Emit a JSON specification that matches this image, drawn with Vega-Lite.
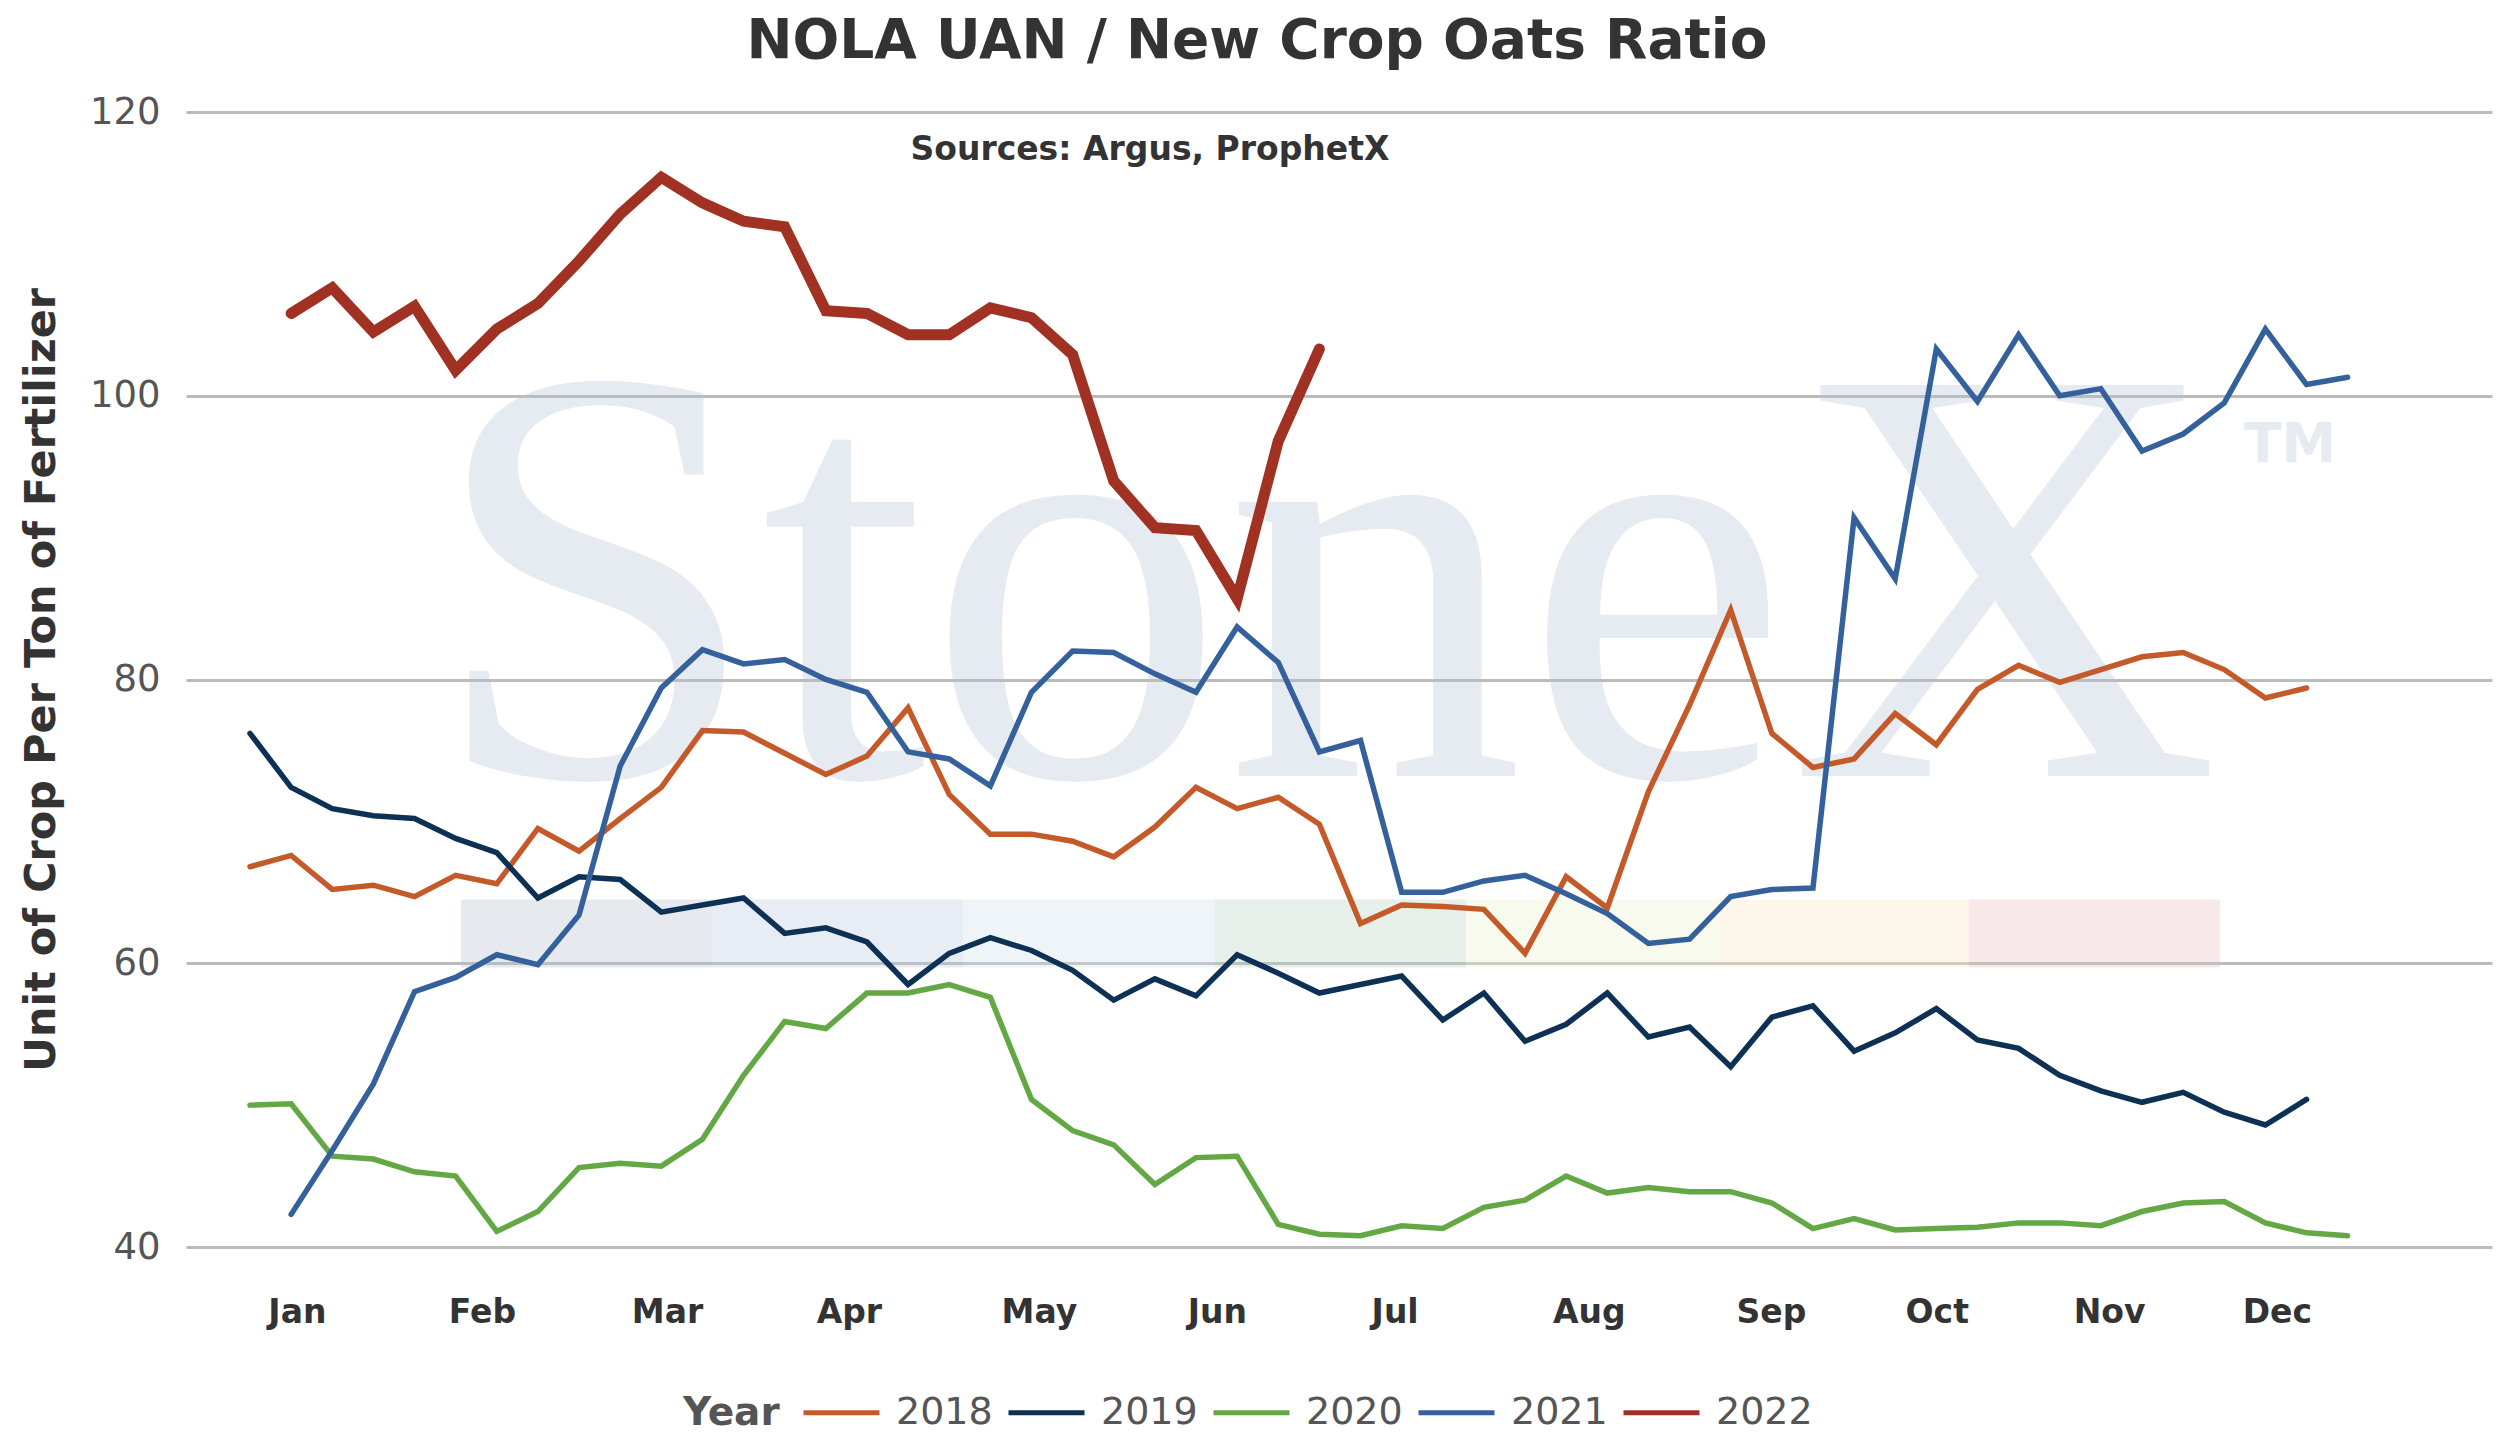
{
"$schema": "https://vega.github.io/schema/vega-lite/v6.json",
"width": 2306,
"height": 1135,
"autosize": {"type": "none"},
"padding": {"left": 186, "top": 112, "right": 10, "bottom": 205},
"background": "white",
"title": {"text": "NOLA UAN / New Crop Oats Ratio", "font": "DejaVu Sans", "fontWeight": "bold", "fontSize": 55, "color": "#333333", "anchor": "middle", "dx": -82, "offset": 23},
"config": {"view": {"stroke": null}, "font": "DejaVu Sans"},
"datasets": {
"bands": [
{"seg": 1, "week": 6.13, "week2": 12.23, "value": 59.7, "value2": 64.5},
{"seg": 2, "week": 12.23, "week2": 18.34, "value": 59.7, "value2": 64.5},
{"seg": 3, "week": 18.34, "week2": 24.46, "value": 59.7, "value2": 64.5},
{"seg": 4, "week": 24.46, "week2": 30.57, "value": 59.7, "value2": 64.5},
{"seg": 5, "week": 30.57, "week2": 36.69, "value": 59.7, "value2": 64.5},
{"seg": 6, "week": 36.69, "week2": 42.79, "value": 59.7, "value2": 64.5},
{"seg": 7, "week": 42.79, "week2": 48.9, "value": 59.7, "value2": 64.5}
],
"lines": [
{"year":"2018","week":1,"value":66.8},{"year":"2018","week":2,"value":67.6},{"year":"2018","week":3,"value":65.2},{"year":"2018","week":4,"value":65.5},{"year":"2018","week":5,"value":64.7},{"year":"2018","week":6,"value":66.2},{"year":"2018","week":7,"value":65.6},{"year":"2018","week":8,"value":69.5},{"year":"2018","week":9,"value":67.9},{"year":"2018","week":10,"value":70.2},{"year":"2018","week":11,"value":72.4},{"year":"2018","week":12,"value":76.4},{"year":"2018","week":13,"value":76.3},{"year":"2018","week":14,"value":74.8},{"year":"2018","week":15,"value":73.3},{"year":"2018","week":16,"value":74.6},{"year":"2018","week":17,"value":78.0},{"year":"2018","week":18,"value":71.9},{"year":"2018","week":19,"value":69.1},{"year":"2018","week":20,"value":69.1},{"year":"2018","week":21,"value":68.6},{"year":"2018","week":22,"value":67.5},{"year":"2018","week":23,"value":69.6},{"year":"2018","week":24,"value":72.4},{"year":"2018","week":25,"value":70.9},{"year":"2018","week":26,"value":71.7},{"year":"2018","week":27,"value":69.8},{"year":"2018","week":28,"value":62.8},{"year":"2018","week":29,"value":64.1},{"year":"2018","week":30,"value":64.0},{"year":"2018","week":31,"value":63.8},{"year":"2018","week":32,"value":60.7},{"year":"2018","week":33,"value":66.1},{"year":"2018","week":34,"value":63.9},{"year":"2018","week":35,"value":72.1},{"year":"2018","week":36,"value":78.2},{"year":"2018","week":37,"value":84.9},{"year":"2018","week":38,"value":76.2},{"year":"2018","week":39,"value":73.8},{"year":"2018","week":40,"value":74.4},{"year":"2018","week":41,"value":77.6},{"year":"2018","week":42,"value":75.4},{"year":"2018","week":43,"value":79.3},{"year":"2018","week":44,"value":81.0},{"year":"2018","week":45,"value":79.8},{"year":"2018","week":46,"value":80.7},{"year":"2018","week":47,"value":81.6},{"year":"2018","week":48,"value":81.9},{"year":"2018","week":49,"value":80.7},{"year":"2018","week":50,"value":78.7},{"year":"2018","week":51,"value":79.4},
{"year":"2019","week":1,"value":76.2},{"year":"2019","week":2,"value":72.4},{"year":"2019","week":3,"value":70.9},{"year":"2019","week":4,"value":70.4},{"year":"2019","week":5,"value":70.2},{"year":"2019","week":6,"value":68.8},{"year":"2019","week":7,"value":67.8},{"year":"2019","week":8,"value":64.6},{"year":"2019","week":9,"value":66.1},{"year":"2019","week":10,"value":65.9},{"year":"2019","week":11,"value":63.6},{"year":"2019","week":12,"value":64.1},{"year":"2019","week":13,"value":64.6},{"year":"2019","week":14,"value":62.1},{"year":"2019","week":15,"value":62.5},{"year":"2019","week":16,"value":61.5},{"year":"2019","week":17,"value":58.5},{"year":"2019","week":18,"value":60.7},{"year":"2019","week":19,"value":61.8},{"year":"2019","week":20,"value":60.9},{"year":"2019","week":21,"value":59.5},{"year":"2019","week":22,"value":57.4},{"year":"2019","week":23,"value":58.9},{"year":"2019","week":24,"value":57.7},{"year":"2019","week":25,"value":60.6},{"year":"2019","week":26,"value":59.3},{"year":"2019","week":27,"value":57.9},{"year":"2019","week":28,"value":58.5},{"year":"2019","week":29,"value":59.1},{"year":"2019","week":30,"value":56.0},{"year":"2019","week":31,"value":57.9},{"year":"2019","week":32,"value":54.5},{"year":"2019","week":33,"value":55.7},{"year":"2019","week":34,"value":57.9},{"year":"2019","week":35,"value":54.8},{"year":"2019","week":36,"value":55.5},{"year":"2019","week":37,"value":52.7},{"year":"2019","week":38,"value":56.2},{"year":"2019","week":39,"value":57.0},{"year":"2019","week":40,"value":53.8},{"year":"2019","week":41,"value":55.1},{"year":"2019","week":42,"value":56.8},{"year":"2019","week":43,"value":54.6},{"year":"2019","week":44,"value":54.0},{"year":"2019","week":45,"value":52.1},{"year":"2019","week":46,"value":51.0},{"year":"2019","week":47,"value":50.2},{"year":"2019","week":48,"value":50.9},{"year":"2019","week":49,"value":49.5},{"year":"2019","week":50,"value":48.6},{"year":"2019","week":51,"value":50.4},
{"year":"2020","week":1,"value":50.0},{"year":"2020","week":2,"value":50.1},{"year":"2020","week":3,"value":46.4},{"year":"2020","week":4,"value":46.2},{"year":"2020","week":5,"value":45.3},{"year":"2020","week":6,"value":45.0},{"year":"2020","week":7,"value":41.1},{"year":"2020","week":8,"value":42.5},{"year":"2020","week":9,"value":45.6},{"year":"2020","week":10,"value":45.9},{"year":"2020","week":11,"value":45.7},{"year":"2020","week":12,"value":47.6},{"year":"2020","week":13,"value":52.1},{"year":"2020","week":14,"value":55.9},{"year":"2020","week":15,"value":55.4},{"year":"2020","week":16,"value":57.9},{"year":"2020","week":17,"value":57.9},{"year":"2020","week":18,"value":58.5},{"year":"2020","week":19,"value":57.6},{"year":"2020","week":20,"value":50.4},{"year":"2020","week":21,"value":48.2},{"year":"2020","week":22,"value":47.2},{"year":"2020","week":23,"value":44.4},{"year":"2020","week":24,"value":46.3},{"year":"2020","week":25,"value":46.4},{"year":"2020","week":26,"value":41.6},{"year":"2020","week":27,"value":40.9},{"year":"2020","week":28,"value":40.8},{"year":"2020","week":29,"value":41.5},{"year":"2020","week":30,"value":41.3},{"year":"2020","week":31,"value":42.8},{"year":"2020","week":32,"value":43.3},{"year":"2020","week":33,"value":45.0},{"year":"2020","week":34,"value":43.8},{"year":"2020","week":35,"value":44.2},{"year":"2020","week":36,"value":43.9},{"year":"2020","week":37,"value":43.9},{"year":"2020","week":38,"value":43.1},{"year":"2020","week":39,"value":41.3},{"year":"2020","week":40,"value":42.0},{"year":"2020","week":41,"value":41.2},{"year":"2020","week":42,"value":41.3},{"year":"2020","week":43,"value":41.4},{"year":"2020","week":44,"value":41.7},{"year":"2020","week":45,"value":41.7},{"year":"2020","week":46,"value":41.5},{"year":"2020","week":47,"value":42.5},{"year":"2020","week":48,"value":43.1},{"year":"2020","week":49,"value":43.2},{"year":"2020","week":50,"value":41.7},{"year":"2020","week":51,"value":41.0},{"year":"2020","week":52,"value":40.8},
{"year":"2021","week":2,"value":42.3},{"year":"2021","week":3,"value":46.8},{"year":"2021","week":4,"value":51.5},{"year":"2021","week":5,"value":58.0},{"year":"2021","week":6,"value":59.0},{"year":"2021","week":7,"value":60.6},{"year":"2021","week":8,"value":59.9},{"year":"2021","week":9,"value":63.4},{"year":"2021","week":10,"value":73.9},{"year":"2021","week":11,"value":79.4},{"year":"2021","week":12,"value":82.1},{"year":"2021","week":13,"value":81.1},{"year":"2021","week":14,"value":81.4},{"year":"2021","week":15,"value":80.0},{"year":"2021","week":16,"value":79.1},{"year":"2021","week":17,"value":74.9},{"year":"2021","week":18,"value":74.4},{"year":"2021","week":19,"value":72.5},{"year":"2021","week":20,"value":79.1},{"year":"2021","week":21,"value":82.0},{"year":"2021","week":22,"value":81.9},{"year":"2021","week":23,"value":80.4},{"year":"2021","week":24,"value":79.1},{"year":"2021","week":25,"value":83.7},{"year":"2021","week":26,"value":81.2},{"year":"2021","week":27,"value":74.9},{"year":"2021","week":28,"value":75.7},{"year":"2021","week":29,"value":65.0},{"year":"2021","week":30,"value":65.0},{"year":"2021","week":31,"value":65.8},{"year":"2021","week":32,"value":66.2},{"year":"2021","week":33,"value":64.9},{"year":"2021","week":34,"value":63.5},{"year":"2021","week":35,"value":61.4},{"year":"2021","week":36,"value":61.7},{"year":"2021","week":37,"value":64.7},{"year":"2021","week":38,"value":65.2},{"year":"2021","week":39,"value":65.3},{"year":"2021","week":40,"value":91.4},{"year":"2021","week":41,"value":87.1},{"year":"2021","week":42,"value":103.3},{"year":"2021","week":43,"value":99.6},{"year":"2021","week":44,"value":104.3},{"year":"2021","week":45,"value":100.0},{"year":"2021","week":46,"value":100.5},{"year":"2021","week":47,"value":96.1},{"year":"2021","week":48,"value":97.3},{"year":"2021","week":49,"value":99.5},{"year":"2021","week":50,"value":104.7},{"year":"2021","week":51,"value":100.8},{"year":"2021","week":52,"value":101.3},
{"year":"2022","week":2,"value":105.8},{"year":"2022","week":3,"value":107.6},{"year":"2022","week":4,"value":104.5},{"year":"2022","week":5,"value":106.3},{"year":"2022","week":6,"value":101.8},{"year":"2022","week":7,"value":104.7},{"year":"2022","week":8,"value":106.5},{"year":"2022","week":9,"value":109.5},{"year":"2022","week":10,"value":112.8},{"year":"2022","week":11,"value":115.4},{"year":"2022","week":12,"value":113.6},{"year":"2022","week":13,"value":112.3},{"year":"2022","week":14,"value":111.9},{"year":"2022","week":15,"value":106.0},{"year":"2022","week":16,"value":105.8},{"year":"2022","week":17,"value":104.3},{"year":"2022","week":18,"value":104.3},{"year":"2022","week":19,"value":106.2},{"year":"2022","week":20,"value":105.5},{"year":"2022","week":21,"value":102.9},{"year":"2022","week":22,"value":94.0},{"year":"2022","week":23,"value":90.7},{"year":"2022","week":24,"value":90.5},{"year":"2022","week":25,"value":85.7},{"year":"2022","week":26,"value":96.8},{"year":"2022","week":27,"value":103.3}
]
},
"encoding": {
"x": {"field": "week", "type": "quantitative", "scale": {"domain": [-0.556, 55.51], "nice": false, "zero": false},
  "axis": {"title": null, "grid": false, "ticks": false, "domain": false, "labelFlush": false, "labelOverlap": false,
    "values": [2.14, 6.64, 11.14, 15.56, 20.18, 24.51, 28.83, 33.55, 37.98, 42.01, 46.2, 50.28],
    "labelExpr": "['Jan','Feb','Mar','Apr','May','Jun','Jul','Aug','Sep','Oct','Nov','Dec'][indexof([2.14, 6.64, 11.14, 15.56, 20.18, 24.51, 28.83, 33.55, 37.98, 42.01, 46.2, 50.28], datum.value)]",
    "labelFont": "DejaVu Sans", "labelFontWeight": "bold", "labelFontSize": 33, "labelColor": "#333333", "labelPadding": 49}},
"y": {"field": "value", "type": "quantitative", "scale": {"domain": [40, 120], "nice": false, "zero": false},
  "axis": {"values": [40, 60, 80, 100, 120], "grid": true, "gridColor": "#bbbbbb", "gridWidth": 3, "ticks": false, "domain": false,
    "labelFont": "DejaVu Sans", "labelFontSize": 37, "labelColor": "#555555", "labelPadding": 26,
    "title": "Unit of Crop Per Ton of Fertilizer", "titleFont": "DejaVu Sans", "titleFontWeight": "bold", "titleFontSize": 43, "titleColor": "#333333", "titlePadding": 26}}
},
"layer": [
{"data": {"name": "bands"}, "mark": {"type": "rect", "opacity": 0.35},
 "encoding": {"x2": {"field": "week2"}, "y2": {"field": "value2"},
  "fill": {"field": "seg", "type": "ordinal", "legend": null, "scale": {"domain": [1,2,3,4,5,6,7], "range": ["#b8c0ce", "#bdcce2", "#d1e0ee", "#b8d1c3", "#eef1ce", "#f9e5c3", "#e8c0c3"]}}}},
{"data": {"values": [{"week": 5.35, "value": 73.2, "label": "StoneX"}]},
 "mark": {"type": "text", "align": "left", "baseline": "alphabetic", "font": "Liberation Serif", "fontSize": 597, "fill": "#b4c0d6", "opacity": 0.33},
 "encoding": {"text": {"field": "label"}}},
{"data": {"values": [{"week": 49.48, "value": 95.33, "label": "TM"}]},
 "mark": {"type": "text", "align": "left", "baseline": "alphabetic", "font": "DejaVu Sans", "fontWeight": "bold", "fontSize": 55, "fill": "#b4c0d6", "opacity": 0.33},
 "encoding": {"text": {"field": "label"}}},
{"data": {"values": [{"week": 22.88, "value": 116.6, "label": "Sources: Argus, ProphetX"}]},
 "mark": {"type": "text", "align": "center", "baseline": "alphabetic", "font": "DejaVu Sans", "fontWeight": "bold", "fontSize": 33, "fill": "#333333"},
 "encoding": {"text": {"field": "label"}}},
{"data": {"name": "lines"}, "transform": [{"filter": "datum.year != '2022'"}],
 "mark": {"type": "line", "strokeWidth": 5.5, "strokeCap": "round"},
 "encoding": {"color": {"field": "year", "type": "nominal",
   "scale": {"domain": ["2018", "2019", "2020", "2021", "2022"], "range": ["#c45a29", "#0c3154", "#64a845", "#34619b", "#a03123"]},
   "legend": {"title": "Year", "orient": "none", "legendX": 497, "legendY": 1260, "direction": "horizontal", "columns": 5, "titleOrient": "left",
     "titleAnchor": "middle", "titleBaseline": "line-top", "titleLineHeight": 23,
     "titleFont": "DejaVu Sans", "titleFontWeight": "bold", "titleFontSize": 39, "titleColor": "#555555", "titlePadding": 21,
     "labelFont": "DejaVu Sans", "labelFontSize": 38, "labelColor": "#555555", "labelOffset": 14, "columnPadding": 5,
     "symbolType": "stroke", "symbolSize": 5776, "symbolStrokeWidth": 5}}}},
{"data": {"name": "lines"}, "transform": [{"filter": "datum.year == '2022'"}],
 "mark": {"type": "line", "strokeWidth": 11, "strokeCap": "round"},
 "encoding": {"color": {"field": "year", "type": "nominal",
   "scale": {"domain": ["2018", "2019", "2020", "2021", "2022"], "range": ["#c45a29", "#0c3154", "#64a845", "#34619b", "#a03123"]}}}}
]
}
